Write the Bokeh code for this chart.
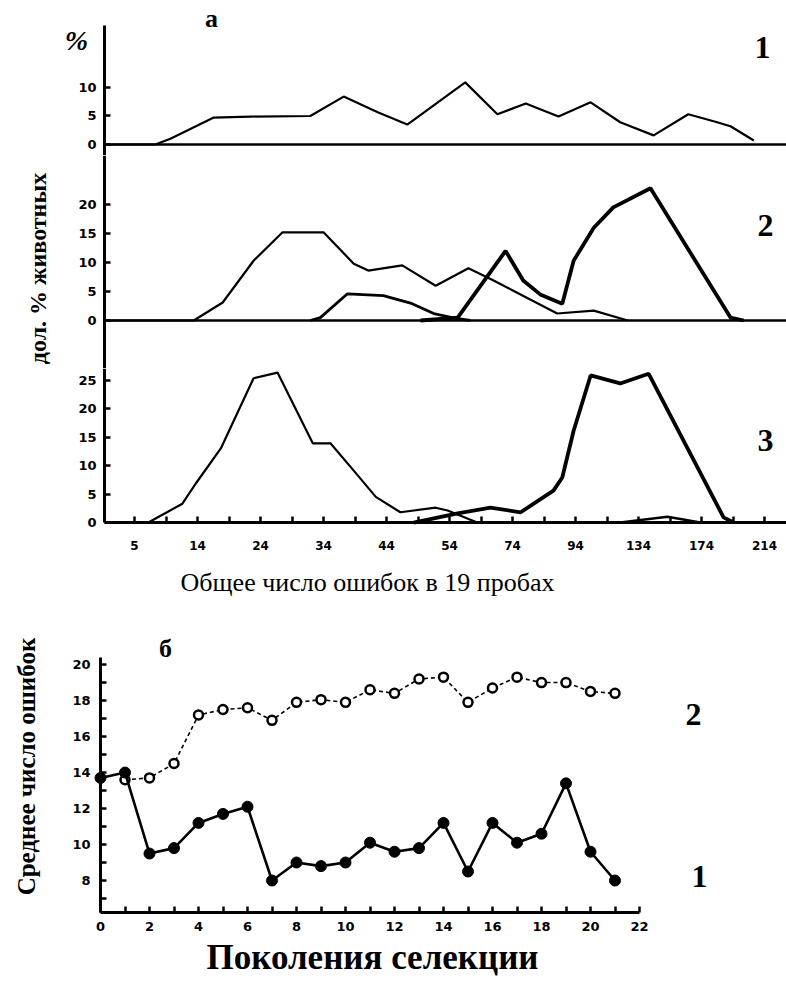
import math
from bokeh.plotting import figure
from bokeh.layouts import column
from bokeh.models import Range1d, FixedTicker, Label, LinearAxis, Grid
from bokeh.embed import file_html
from bokeh.resources import INLINE

# ---------------- data: part "а" (x in units of the class labels) ----------------
bin_labels = ["5", "14", "24", "34", "44", "54", "74", "94", "134", "174", "214"]

# panel 1
p1_x = [-0.48, 0.33, 0.57, 1.25, 1.84, 2.79, 3.32, 3.87, 4.33, 5.25, 5.76, 6.21,
        6.73, 7.24, 7.71, 8.24, 8.79, 9.22, 9.46, 9.83]
p1_y = [0, 0, 1.0, 4.7, 4.9, 5.0, 8.4, 5.6, 3.5, 10.9, 5.3, 7.2,
        4.9, 7.4, 3.9, 1.6, 5.3, 4.0, 3.2, 0.7]

# panel 2
p2a_x = [-0.48, 0.94, 1.40, 1.89, 2.35, 3.00, 3.48, 3.71, 4.25, 4.78, 5.30, 5.70,
         6.71, 7.29, 7.83]
p2a_y = [0, 0, 3.1, 10.3, 15.2, 15.2, 9.8, 8.6, 9.5, 6.0, 9.0, 6.9, 1.2, 1.7, 0]
p2b_x = [2.79, 2.95, 3.38, 3.95, 4.38, 4.75, 5.13, 5.33]
p2b_y = [0, 0.5, 4.6, 4.3, 3.0, 1.2, 0.3, 0]
p2c_x = [4.54, 5.13, 5.89, 6.17, 6.44, 6.79, 6.97, 7.29, 7.60, 8.19, 9.46, 9.67]
p2c_y = [0, 0.5, 12.0, 6.9, 4.5, 2.9, 10.3, 16.0, 19.5, 22.8, 0.5, 0]

# panel 3
p3a_x = [0.22, 0.76, 0.97, 1.37, 1.89, 2.27, 2.83, 3.11, 3.48, 3.83, 4.22, 4.78,
         4.97, 5.44]
p3a_y = [0, 3.3, 6.8, 13.0, 25.3, 26.3, 13.9, 13.9, 9.1, 4.5, 1.8, 2.6, 2.1, 0]
p3b_x = [4.43, 5.13, 5.65, 6.13, 6.65, 6.79, 6.97, 7.24, 7.71, 8.16, 9.35, 9.51]
p3b_y = [0, 1.6, 2.6, 1.8, 5.6, 7.9, 16.1, 25.8, 24.4, 26.1, 0.9, 0]
p3c_x = [7.71, 8.46, 8.98]
p3c_y = [0, 1.0, 0]

# ---------------- data: part "б" ----------------
gen1 = list(range(0, 22))
errors1 = [13.7, 14.0, 9.5, 9.8, 11.2, 11.7, 12.1, 8.0, 9.0, 8.8, 9.0, 10.1,
           9.6, 9.8, 11.2, 8.5, 11.2, 10.1, 10.6, 13.4, 9.6, 8.0]
gen2 = list(range(1, 22))
errors2 = [13.6, 13.7, 14.5, 17.2, 17.5, 17.6, 16.9, 17.9, 18.05, 17.9, 18.6,
           18.4, 19.2, 19.3, 17.9, 18.7, 19.3, 19.0, 19.0, 18.5, 18.4]

SERIF = "Liberation Serif"
SANS = "DejaVu Sans"
W = 786

# layout: (top in page px, height) of each stacked figure
A1_TOP, A1_H = 0, 155
A2_TOP, A2_H = 155, 213
A3_TOP, A3_H = 368, 232
B_TOP, B_H = 600, 380

XA_RANGE = (-2.127, 10.349)   # class-label units across the full width
XA_AXIS = -0.476              # where the y axes of part "а" sit
XB_RANGE = (-4.082, 28.0)
YB_AXIS = 6.22


def base_fig(height, xr, yr):
    p = figure(width=W, height=height, x_range=Range1d(*xr), y_range=Range1d(*yr),
               x_axis_location=None, y_axis_location=None, min_border=0,
               output_backend="svg", toolbar_location=None)
    p.center = [r for r in p.center if not isinstance(r, Grid)]
    p.outline_line_color = None
    p.background_fill_color = "white"
    p.border_fill_color = "white"
    return p


def make_axis(ticks, minor=None, standoff=8, size="13px", line_width=3):
    ax = LinearAxis(ticker=FixedTicker(ticks=ticks, minor_ticks=minor or []))
    ax.axis_line_width = line_width
    ax.axis_line_color = "black"
    ax.major_tick_in = 6
    ax.major_tick_out = 0
    ax.major_tick_line_width = 2.5
    ax.minor_tick_in = 6
    ax.minor_tick_out = 0
    ax.minor_tick_line_width = 2.5
    ax.major_label_text_font = SANS
    ax.major_label_text_font_style = "bold"
    ax.major_label_text_font_size = size
    ax.major_label_text_color = "black"
    ax.major_label_standoff = standoff
    return ax


def lab(p, top, height, text, px, py, size, style="bold", font=SERIF, angle=0.0):
    p.add_layout(Label(x=px, y=height - (py - top), x_units="screen", y_units="screen",
                       text=text, text_font=font, text_font_style=style,
                       text_font_size=size, text_align="center",
                       text_baseline="middle", angle=angle, text_color="black"))


# ---- panel 1 ----
pA1 = base_fig(A1_H, XA_RANGE, (-1.93, 25.26))
ya1 = make_axis([0, 5, 10])
ya1.fixed_location = XA_AXIS
ya1.bounds = (-1.93, 20.88)
pA1.add_layout(ya1, "left")
xa1 = make_axis([], line_width=2.5)
xa1.fixed_location = 0
xa1.bounds = (XA_AXIS, XA_RANGE[1])
pA1.add_layout(xa1, "below")
pA1.line(p1_x, p1_y, line_color="black", line_width=2.2)
lab(pA1, A1_TOP, A1_H, "а", 211, 18, "26px")
lab(pA1, A1_TOP, A1_H, "%", 76, 40, "28px", style="bold italic")
lab(pA1, A1_TOP, A1_H, "1", 762, 47, "32px")

# ---- panel 2 ----
pA2 = base_fig(A2_H, XA_RANGE, (-8.28, 28.45))
ya2 = make_axis([0, 5, 10, 15, 20])
ya2.fixed_location = XA_AXIS
pA2.add_layout(ya2, "left")
xa2 = make_axis([], line_width=2.5)
xa2.fixed_location = 0
xa2.bounds = (XA_AXIS, XA_RANGE[1])
pA2.add_layout(xa2, "below")
pA2.line(p2a_x, p2a_y, line_color="black", line_width=2.2)
pA2.line(p2b_x, p2b_y, line_color="black", line_width=2.8)
pA2.line(p2c_x, p2c_y, line_color="black", line_width=3.8)
lab(pA2, A2_TOP, A2_H, "2", 765, 225, "32px")
lab(pA2, A2_TOP, A2_H, "дол. % животных", 37, 268, "24px", angle=math.pi / 2)

# ---- panel 3 ----
pA3 = base_fig(A3_H, XA_RANGE, (-13.68, 27.02))
ya3 = make_axis([0, 5, 10, 15, 20, 25])
ya3.fixed_location = XA_AXIS
ya3.bounds = (0, 27.02)
pA3.add_layout(ya3, "left")
idx = list(range(len(bin_labels)))
xa3 = make_axis(idx, [i + 0.5 for i in idx], standoff=18, size="12px")
xa3.fixed_location = 0
xa3.bounds = (XA_AXIS, XA_RANGE[1])
xa3.major_label_overrides = {i: t for i, t in zip(idx, bin_labels)}
pA3.add_layout(xa3, "below")
pA3.line(p3a_x, p3a_y, line_color="black", line_width=2.2)
pA3.line(p3b_x, p3b_y, line_color="black", line_width=3.8)
pA3.line(p3c_x, p3c_y, line_color="black", line_width=2.5)
lab(pA3, A3_TOP, A3_H, "3", 765, 440, "32px")
lab(pA3, A3_TOP, A3_H, "Общее число ошибок в 19 пробах", 367, 582, "26px", style="normal")

# ---- part б ----
pB = base_fig(B_H, XB_RANGE, (2.444, 23.56))
yb = make_axis(list(range(8, 21, 2)), list(range(7, 21, 2)), standoff=10)
yb.fixed_location = 0
yb.bounds = (YB_AXIS, 20.39)
pB.add_layout(yb, "left")
xb = make_axis(list(range(0, 23, 2)), list(range(1, 22, 2)), standoff=9)
xb.fixed_location = YB_AXIS
xb.bounds = (0, 22)
pB.add_layout(xb, "below")

pB.line(gen2, errors2, line_color="black", line_width=1.6, line_dash="4 3")
pB.scatter(gen2, errors2, marker="circle", size=9, fill_color="white",
           line_color="black", line_width=2.5)
pB.line(gen1, errors1, line_color="black", line_width=2.6)
pB.scatter(gen1, errors1, marker="circle", size=11, fill_color="black",
           line_color="black")
lab(pB, B_TOP, B_H, "б", 165, 648, "26px")
lab(pB, B_TOP, B_H, "2", 693, 714, "32px")
lab(pB, B_TOP, B_H, "1", 699, 876, "32px")
lab(pB, B_TOP, B_H, "Среднее число ошибок", 26, 766, "25px", angle=math.pi / 2)
lab(pB, B_TOP, B_H, "Поколения селекции", 372, 957, "35px")

layout = column(pA1, pA2, pA3, pB, spacing=0)
open("out.html", "w").write(file_html(layout, INLINE))
